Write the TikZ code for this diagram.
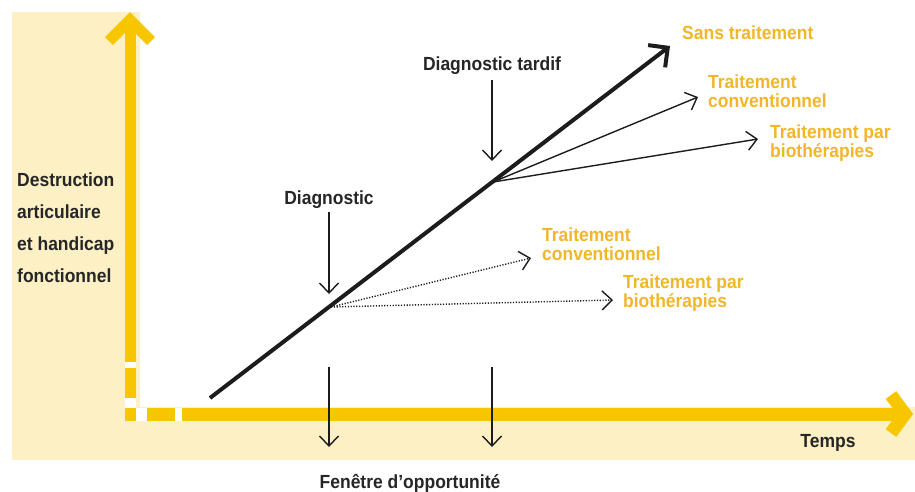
\documentclass[tikz,border=0pt]{standalone}
\usepackage{fontspec}
\setmainfont{Liberation Sans}[FakeStretch=0.92]
\usetikzlibrary{arrows.meta}
\definecolor{axisyel}{HTML}{F6C700}
\definecolor{paleyel}{HTML}{FDF0C4}
\definecolor{txtorange}{HTML}{F2B62B}
\definecolor{txtdark}{HTML}{262626}
\definecolor{linedark}{HTML}{1C1C1C}
\begin{document}
\begin{tikzpicture}[x=1pt,y=-1pt,
  darklabel/.style={font=\fontsize{19}{21}\selectfont\bfseries, text=txtdark, inner sep=0pt},
  orangelabel/.style={font=\fontsize{19}{19}\selectfont\bfseries, text=txtorange, align=left, inner sep=0pt, anchor=north west},
  thinarrow/.style={line width=1.4pt, draw=linedark, -{Straight Barb[length=10pt,width=19pt]}},
  dotarrow/.style={thinarrow, dash pattern=on 1.2pt off 1.6pt},
  yelpiece/.style={fill=axisyel, draw=none},
  gappatch/.style={fill=white, draw=none}
]
\useasboundingbox (0,0) rectangle (915,491);
% backgrounds
\fill[white] (0,0) rectangle (915,491);
\fill[paleyel] (12,12) rectangle (915,460);
\fill[white] (140,0) rectangle (915,407);
% white behind dashed axis parts
\fill[gappatch] (124.5,361) rectangle (135.5,421);
\fill[gappatch] (124.5,407.5) rectangle (183,420.5);
% vertical axis
\draw[draw=axisyel, line width=11pt] (130,362) -- (130,20);
\draw[draw=axisyel, line width=11pt, miter limit=10] (109,41) -- (130,20) -- (151,41);
\fill[yelpiece] (124.5,368) rectangle (135.5,398);
\fill[yelpiece] (124.5,407.5) rectangle (135.5,420.5);
% horizontal axis
\fill[yelpiece] (147,407.5) rectangle (175,420.5);
\draw[draw=axisyel, line width=13pt] (182,414) -- (904,414);
\draw[draw=axisyel, line width=13pt, miter limit=10] (891,395) -- (905,414) -- (891,433);
% main line
\coordinate (startp) at (210,398);
\coordinate (tipp) at (670,46);
\coordinate (dp) at (331,307);
\coordinate (lp) at (493,182);
\draw[line width=4pt, draw=linedark, -{Straight Barb[length=14pt,width=28pt,line width=4pt]}] (startp) -- (tipp);
% late branches
\coordinate (lateconv) at (698,97);
\coordinate (latebio) at (758,139);
\draw[thinarrow] (lp) -- (lateconv);
\draw[thinarrow] (lp) -- (latebio);
% early dotted branches
\coordinate (earlyconv) at (531,258);
\coordinate (earlybio) at (613,300);
\draw[dotarrow] (dp) -- (earlyconv);
\draw[dotarrow] (dp) -- (earlybio);
% labels
\node[darklabel, anchor=base] (diag) at (329,204) {Diagnostic};
\node[darklabel, anchor=base] (tardif) at (492,70) {Diagnostic tardif};
\node[darklabel, anchor=base] (temps) at (828,447) {Temps};
\node[darklabel, anchor=base] (fenetre) at (410,488) {Fenêtre d’opportunité};
\node[darklabel, align=left, anchor=north west, font=\fontsize{19}{32}\selectfont\bfseries] (ylabel) at (17,173) {Destruction\\articulaire\\et handicap\\fonctionnel};
\node[orangelabel, anchor=west] (sans) at (682,33) {Sans traitement};
\node[orangelabel] (convup) at (708,75) {Traitement\\conventionnel};
\node[orangelabel] (bioup) at (770,125) {Traitement par\\biothérapies};
\node[orangelabel] (convlow) at (542,228) {Traitement\\conventionnel};
\node[orangelabel] (biolow) at (623,275) {Traitement par\\biothérapies};
% vertical arrows
\coordinate (da1) at (329,212);
\coordinate (da2) at (329,294);
\coordinate (ta1) at (492,80);
\coordinate (ta2) at (492,161);
\draw[thinarrow] (da1) -- (da2);
\draw[thinarrow] (ta1) -- (ta2);
\coordinate (fa1) at (329,367);
\coordinate (fa2) at (329,447);
\coordinate (fb1) at (492,367);
\coordinate (fb2) at (492,447);
\draw[thinarrow] (fa1) -- (fa2);
\draw[thinarrow] (fb1) -- (fb2);
\end{tikzpicture}
\end{document}
